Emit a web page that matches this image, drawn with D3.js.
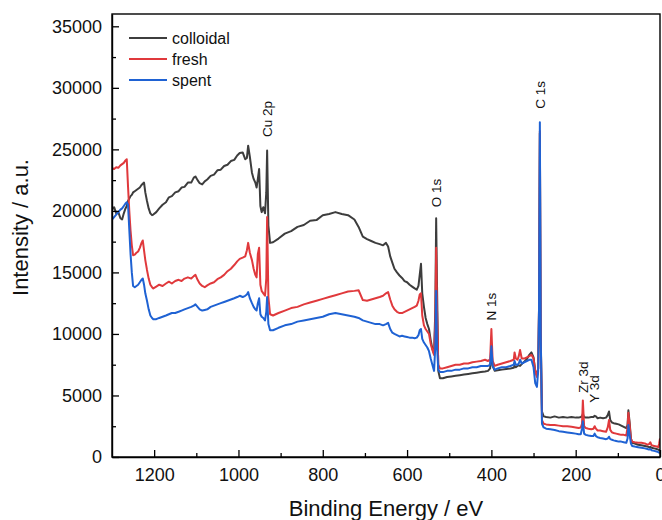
<!DOCTYPE html>
<html>
<head>
<meta charset="utf-8">
<script src="https://cdn.jsdelivr.net/npm/d3@7"></script>
<style>
  html, body { margin: 0; padding: 0; background: #fff; }
  svg { display: block; font-family: Arial, "Liberation Sans", sans-serif; }
</style>
</head>
<body>
<svg id="chart" width="662" height="520"></svg>
<script>
// ---------------- DATA ----------------
const energy = [
  1300, 1295, 1290, 1285, 1280, 1276, 1272, 1268, 1265, 1262,
  1259, 1256, 1253, 1250, 1246, 1242, 1238, 1234, 1230, 1227,
  1224, 1221, 1217, 1213, 1209, 1205, 1202, 1195, 1188, 1180,
  1172, 1165, 1158, 1150, 1142, 1135, 1128, 1120, 1112, 1106,
  1102, 1097, 1092, 1086, 1080, 1074, 1066, 1058, 1050, 1042,
  1034, 1026, 1018, 1010, 1003, 997, 990, 984, 980, 977,
  973, 968, 964, 960, 957, 954, 951, 948, 945, 941,
  937, 934, 932, 929, 925, 918, 905, 890, 875, 860,
  845, 830, 815, 800, 785, 770, 755, 740, 725, 715,
  705, 695, 685, 675, 665, 657, 650, 645, 640, 635,
  630, 624, 618, 612, 606, 600, 594, 588, 582, 577,
  573, 570, 567, 564, 560, 556, 552, 548, 544, 540,
  536, 533, 531, 529, 526, 522, 515, 505, 495, 485,
  475, 465, 455, 445, 435, 425, 415, 408, 403, 400,
  397, 392, 385, 375, 365, 355, 347, 345, 342, 338,
  335, 332, 328, 322, 316, 310, 305, 300, 296, 292,
  289, 287, 285, 283, 280, 276, 270, 260, 250, 240,
  230, 220, 210, 200, 193, 188, 185, 183, 180, 176,
  170, 163, 158, 155, 152, 148, 142, 135, 128, 124,
  121, 118, 114, 110, 104, 98, 92, 86, 80, 77,
  75, 72, 69, 66, 60, 52, 44, 36, 30, 26,
  23, 20, 14, 8, 4, 2, 0
];

const colloidal = [
  20100, 20300, 19800, 19900, 19400, 19300, 19800, 20200, 20400, 20800,
  21000, 21200, 21300, 21500, 21600, 21700, 21800, 21900, 22100, 22200,
  22300, 21500, 20800, 20200, 19800, 19650, 19700, 19900, 20200, 20500,
  20700, 21100, 21200, 21500, 21600, 21900, 21950, 22300, 22300, 22700,
  22800, 22500, 22250, 22150, 22400, 22550, 22850, 22950, 23300, 23350,
  23650, 23750, 24050, 24150, 24500, 24700, 24750, 24200, 24300, 25300,
  24400, 23100, 22600, 22300, 21900, 22600, 23400, 20400, 19900, 20300,
  19800, 21500, 24900, 18800, 17400, 17450, 17750, 18150, 18350, 18700,
  18850, 19200, 19250, 19650, 19750, 19900, 19750, 19650, 19300, 18700,
  17900, 17700, 17550, 17400, 17300, 17200, 17400, 17100, 16300, 15800,
  15300, 15000, 14750, 14550, 14300, 14200, 14000, 13850, 13700, 13600,
  13900, 14800, 15700, 13300, 12200, 11300, 10800, 10400, 9500, 8800,
  8400, 12000, 19400, 14000, 7000, 6400, 6400, 6500, 6550, 6600,
  6650, 6700, 6750, 6800, 6850, 6900, 6950, 7000, 7200, 8800,
  7400, 7000, 7050, 7100, 7150, 7200, 7250, 7400, 7300, 7400,
  7450, 7400, 7550, 7750, 7950, 8300, 8500, 8100, 7000, 6600,
  7200, 12000, 26300, 10000, 3700, 3300, 3250, 3200, 3300, 3200,
  3250, 3200, 3250, 3200, 3200, 3250, 3300, 3500, 3250, 3200,
  3200, 3250, 3250, 3350, 3300, 3150, 3200, 3150, 3200, 3400,
  3700, 3000, 2800, 2750, 2700, 2650, 2550, 2450, 2350, 2600,
  3800, 2800, 1500, 1150, 1100, 1000, 950, 900, 850, 800,
  820, 750, 700, 650, 600, 550, 520
];

const fresh = [
  23500, 23400, 23550, 23500, 23700, 23800, 23900, 24100, 24200, 22000,
  20000, 18400, 17200, 16400, 16450, 16600, 16700, 17000, 17400, 17600,
  16800, 16000, 15200, 14500, 14000, 13800, 13700, 13850, 14000, 13900,
  14100, 14250, 14100, 14300, 14400, 14300, 14500, 14600, 14500, 14700,
  14800, 14400, 14100, 13900, 13800, 13950, 14100, 14200, 14450, 14600,
  14800, 15100, 15300, 15600, 15900, 16100, 16200, 16300, 16800, 17400,
  16600, 16000, 15300, 14800, 14600, 16500, 17000, 14000, 13500, 13300,
  13100, 14500, 19500, 13000, 11600, 11500, 11700, 11900, 12100, 12200,
  12400, 12550, 12700, 12850, 13000, 13150, 13300, 13450, 13500, 13550,
  12750, 12700, 12800, 12900, 13000, 13100, 13300, 13400, 12800, 12300,
  12000, 11800, 11700, 11700, 11800, 11900, 12000, 12100, 12200, 12300,
  12700, 13200, 13300, 11500, 10700, 10400, 10200, 10000, 9200, 8700,
  8300, 11000, 17000, 12000, 7500, 7200, 7200, 7300, 7400, 7500,
  7500, 7600, 7600, 7700, 7750, 7800, 7900, 7800, 7950, 10400,
  7800, 7400, 7500, 7600, 7700, 7800, 7900, 8500, 8000, 7900,
  8200, 8700, 8000, 8000, 8100, 8200, 8300, 8000, 7000, 6500,
  7200, 12000, 26500, 10000, 3000, 2700, 2650, 2600, 2600, 2550,
  2500, 2500, 2450, 2400, 2350, 2400, 2700, 4600, 2500, 2350,
  2300, 2250, 2300, 2500, 2300, 2150, 2150, 2100, 2050, 2400,
  3000, 2200, 2000, 1950, 1900, 1850, 1800, 1800, 1750, 2400,
  3600, 2600, 1500, 1250, 1200, 1150, 1150, 1100, 1000, 1050,
  1200, 950, 900, 850, 800, 1100, 1500
];

const spent = [
  19300, 19500, 19700, 19900, 20100, 20200, 20400, 20600, 20700, 20500,
  18500, 16500, 15000, 13900, 13800, 13900, 14000, 14200, 14400, 14500,
  14000, 13300, 12700, 12000, 11500, 11300, 11200, 11200, 11300, 11400,
  11500, 11600, 11700, 11700, 11800, 11900, 12000, 12100, 12200, 12300,
  12400, 12200, 12000, 11900, 11950, 12000, 12200, 12300, 12400, 12500,
  12600, 12700, 12800, 12900, 13000, 13100, 13000, 13100, 13200, 13400,
  12900, 12500, 12200, 12000, 11900, 12500, 12900, 11600, 11400, 11300,
  11100, 11800, 13000, 10800, 10300, 10300, 10500, 10700, 10800, 11000,
  11100, 11200, 11300, 11400, 11600, 11700, 11600, 11500, 11400, 11300,
  11100, 11000, 10900, 10800, 10800, 10700, 10800, 10900, 10400, 10100,
  10000, 9900, 9800, 9850, 9800, 9750, 9700, 9700, 9650, 9700,
  9900, 10300, 10400, 9600, 9300, 9100, 8900, 8600, 8000, 7500,
  7000, 9000, 13500, 9000, 7100, 6900, 6900, 7000, 7000, 7100,
  7100, 7200, 7200, 7300, 7300, 7400, 7400, 7400, 7500, 9000,
  7400, 7100, 7200, 7300, 7300, 7400, 7500, 7800, 7500, 7500,
  7600, 7900, 7600, 7700, 7800, 7900, 7900, 7300, 6000, 5700,
  7000, 12000, 27200, 10000, 2700, 2400, 2300, 2250, 2200, 2100,
  2050, 2000, 1950, 1900, 1850, 1850, 2300, 2900, 1900, 1800,
  1750, 1700, 1700, 1900, 1700, 1600, 1550, 1500, 1450, 1500,
  1650, 1450, 1400, 1350, 1300, 1250, 1250, 1200, 1150, 1500,
  2600, 1800, 1100, 900, 850, 800, 750, 700, 650, 600,
  650, 550, 500, 450, 400, 350, 300
];

const seriesNames = ["colloidal", "fresh", "spent"];
const seriesColors = ["#3d3d3d", "#e0393c", "#1f62d3"];

const xTickValues = [1200, 1000, 800, 600, 400, 200, 0];
const xMinorTicks = [1100, 900, 700, 500, 300, 100];
const yTickValues = [0, 5000, 10000, 15000, 20000, 25000, 30000, 35000];
const yMinorTicks = [2500, 7500, 12500, 17500, 22500, 27500, 32500];

const peakLabels = ["Cu 2p", "O 1s", "C 1s", "N 1s", "Zr 3d", "Y 3d"];
const peakEnergies = [932, 531, 285, 400, 183, 157];
const peakLabelIntensity = [26000, 20300, 28300, 11100, 5200, 4400];

const xTitle = "Binding Energy / eV";
const yTitle = "Intensity / a.u.";

// ---------------- CHART ----------------
const svg = d3.select("#chart");
const L = 112, R = 660, T = 14, B = 457;

const x = d3.scaleLinear().domain([1300, 0]).range([L, R]);
const y = d3.scaleLinear().domain([0, 36000]).range([B, T]);

svg.append("defs").append("clipPath").attr("id", "clip")
  .append("rect").attr("x", L).attr("y", T).attr("width", R - L).attr("height", B - T);

const seriesData = [colloidal, fresh, spent];
const line = d3.line()
  .x((d, i) => x(energy[i]))
  .y(d => y(d));

const plot = svg.append("g").attr("clip-path", "url(#clip)");
seriesData.forEach((vals, k) => {
  plot.append("path")
    .datum(vals)
    .attr("d", line)
    .attr("fill", "none")
    .attr("stroke", seriesColors[k])
    .attr("stroke-width", 2)
    .attr("stroke-linejoin", "round");
});

// Axes
const xAxis = svg.append("g").attr("transform", `translate(0,${B})`)
  .call(d3.axisBottom(x).tickValues(xTickValues).tickSizeInner(-7).tickSizeOuter(0).tickPadding(11).tickFormat(d3.format("d")));
const xMinor = svg.append("g").attr("transform", `translate(0,${B})`)
  .call(d3.axisBottom(x).tickValues(xMinorTicks).tickSizeInner(-4).tickSizeOuter(0).tickFormat(""));
const yAxis = svg.append("g").attr("transform", `translate(${L},0)`)
  .call(d3.axisLeft(y).tickValues(yTickValues).tickSizeInner(-7).tickSizeOuter(0).tickPadding(10).tickFormat(d3.format("d")));
const yMinor = svg.append("g").attr("transform", `translate(${L},0)`)
  .call(d3.axisLeft(y).tickValues(yMinorTicks).tickSizeInner(-4).tickSizeOuter(0).tickFormat(""));

[xAxis, xMinor, yAxis, yMinor].forEach(g => {
  g.selectAll("path.domain").attr("stroke", "#000").attr("stroke-width", 1.4);
  g.selectAll(".tick line").attr("stroke", "#000").attr("stroke-width", 1.3);
  g.selectAll(".tick text").attr("fill", "#111").style("font-size", "18px")
    .style("font-family", "Arial, 'Liberation Sans', sans-serif");
});
xMinor.select("path.domain").remove();
yMinor.select("path.domain").remove();

// Frame
svg.append("rect")
  .attr("x", L).attr("y", T).attr("width", R - L).attr("height", B - T)
  .attr("fill", "none").attr("stroke", "#000").attr("stroke-width", 1.4);

// Axis titles
svg.append("text")
  .attr("x", (L + R) / 2 + 0).attr("y", 516)
  .attr("text-anchor", "middle")
  .style("font-size", "22px").attr("fill", "#111")
  .text(xTitle);
svg.append("text")
  .attr("transform", `translate(28,${(T + B) / 2 - 8}) rotate(-90)`)
  .attr("text-anchor", "middle")
  .style("font-size", "22px").attr("fill", "#111")
  .text(yTitle);

// Peak labels
peakLabels.forEach((lab, i) => {
  svg.append("text")
    .attr("transform", `translate(${x(peakEnergies[i]) + 5},${y(peakLabelIntensity[i])}) rotate(-90)`)
    .attr("text-anchor", "start")
    .style("font-size", "13.5px").attr("fill", "#111")
    .text(lab);
});

// Legend
const legend = svg.append("g");
seriesNames.forEach((name, i) => {
  const yy = 38 + i * 21;
  legend.append("line")
    .attr("x1", 129).attr("x2", 167).attr("y1", yy).attr("y2", yy)
    .attr("stroke", seriesColors[i]).attr("stroke-width", 2);
  legend.append("text")
    .attr("x", 172).attr("y", yy).attr("dy", "0.35em")
    .style("font-size", "16px").attr("fill", "#111")
    .text(name);
});
</script>
</body>
</html>
